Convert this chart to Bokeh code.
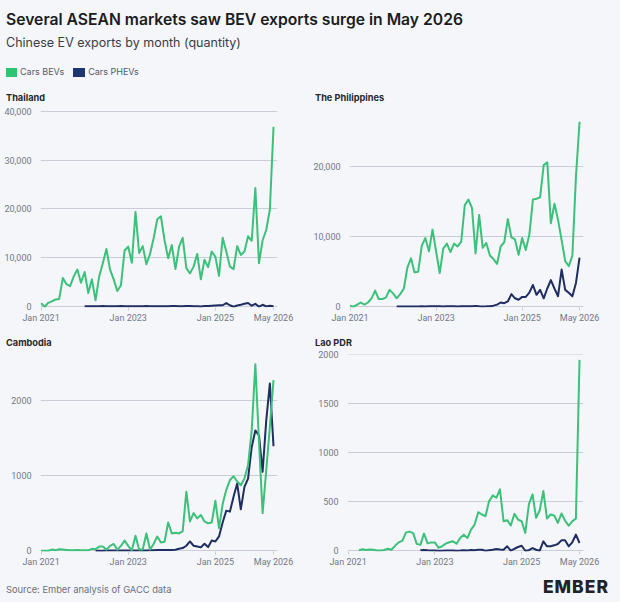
from bokeh.plotting import figure
from bokeh.layouts import column, row
from bokeh.models import Div, FixedTicker, NumeralTickFormatter, Range1d, ColumnDataSource
from bokeh.embed import file_html
from bokeh.resources import INLINE

nan = float("nan")

# ---------------- data ----------------
months = [f"{y}-{m:02d}" for y in range(2021, 2027) for m in range(1, 13)][:65]  # Jan 2021 .. May 2026
x_ticks = [0, 24, 48, 64]
x_tick_labels = ["Jan 2021", "Jan 2023", "Jan 2025", "May 2026"]

thailand_bev = [700, 0, 800, 1100, 1500, 1600, 5900, 4600, 4200, 6200,
                7600, 4900, 7100, 2800, 5600, 1300, 6200, 8900, 11800, 7600,
                5600, 3200, 4400, 11500, 12300, 9000, 19400, 11000, 12400, 8700,
                10800, 14000, 17900, 18500, 13600, 9900, 12600, 7700, 12300, 14100,
                7900, 6800, 8200, 10800, 5600, 9600, 8100, 11300, 10200, 6300,
                14100, 11300, 8200, 7700, 12400, 10600, 11300, 14400, 13500, 24300,
                8900, 13600, 15700, 19900, 36800]
thailand_phev = [nan] * 12 + [100, 120, 90, 110, 100, 130, 120, 110, 100, 120,
                              130, 110, 100, 90, 120, 110, 100, 130, 120, 110,
                              100, 90, 120, 110, 130, 150, 120, 100, 140,
                              150, 100, 80, 50, 150,
                              150, 200, 250, 300, 300, 750, 300, 0, 250, 400,
                              600, 750, 200, 600, 0, 400, 70, 200, 100]

philippines_bev = [150, 0, 300, 600, 300, 600, 1200, 2300, 1100, 1100,
                   1300, 2400, 1900, 1200, 1800, 2600, 5600, 6900, 4900, 5000,
                   8700, 9800, 7900, 11000, 7900, 4800, 8300, 9000, 7800, 9000,
                   8600, 9300, 14500, 15300, 14100, 7600, 13100, 8400, 9100, 7300,
                   6800, 6100, 8600, 9200, 12500, 9900, 9600, 7400, 9800, 8100,
                   10300, 15300, 15400, 15600, 20200, 20600, 11900, 14700, 12400, 9500,
                   6500, 5800, 7300, 18600, 26400]
philippines_phev = [nan] * 13 + [20, 20, 30, 30, 20, 30, 40, 50, 40, 60,
                                 80, 60, 50, 40, 50, 60, 50, 40, 60, 80,
                                 60, 50, 120, 60, 40, 50, 80,
                                 150, 300, 600, 500, 750, 1800, 1200, 1000, 1400, 1400,
                                 2000, 3100, 1700, 2400, 1200, 2600, 3800, 2600, 1500, 5300,
                                 2400, 2000, 1500, 3400, 7000]

cambodia_bev = [0, 0, 0, 15, 5, 20, 15, 10, 5, 5,
                10, 5, 5, 5, 25, 20, 55, 55, 15, 65,
                90, 15, 65, 135, 65, 5, 200, 15, 15, 230,
                15, 90, 190, 110, 120, 375, 230, 240, 230, 260,
                785, 390, 500, 430, 475, 390, 365, 375, 665, 300,
                620, 810, 940, 990, 920, 870, 960, 1140, 1600, 2480,
                1450, 500, 1070, 1650, 2270]
cambodia_phev = [nan] * 15 + [0, 0, 0, 2, 2, 2, 3, 3, 3, 2,
                              3, 3, 4, 3, 4, 5, 5, 8, 10, 8,
                              8, 10, 12,
                              26, 35, 66, 123, 66, 57, 44, 92, 48, 136,
                              123, 190, 375, 533, 520, 718, 894, 550, 850, 960,
                              1380, 1600, 1533, 1050, 1730, 2225, 1390]

lao_bev = [nan] * 3 + [5, 15, 8, 12, 10, 3, 3, 8, 20, 10,
                       50, 85, 100, 185, 195, 180, 70, 60, 175, 75,
                       85, 85, 30,
                       45, 72, 86, 96, 72, 130, 164, 130, 216, 267,
                       394, 370, 353, 507, 565, 541, 627, 301, 312, 257,
                       377, 318, 301, 182, 473, 575, 336, 414, 610, 329,
                       370, 360, 284, 380, 308, 255, 300, 330, 1950]
lao_phev = [nan] * 20 + [5, 8, 5, 3, 2, 0, 0, 2, 3, 2,
                         0, 2, 5, 3, 8, 5, 10,
                         10, 0, 5, 10, 17, 12, 10, 45, 0, 20,
                         38, 51, 0, 5, 27, 10, 0, 96, 45, 45,
                         55, 68, 106, 106, 45, 86, 164, 79]

series_names = ["Cars BEVs", "Cars PHEVs"]

# ---------------- style ----------------
BG = "#f4f6fa"
GREEN = "#3cc07a"
NAVY = "#1f2d60"
GRID = "#c9cdd8"
LABEL = "#737886"
FONT = "Inter"
AXFONT = "Roboto"


def panel(bev, phev, y_ticks, y_end, y_fmt, w, h, bl, br, bt, bb):
    x = list(range(len(months)))
    src = ColumnDataSource(dict(x=x, bev=bev, phev=phev, month=months))
    p = figure(width=w, height=h, x_range=Range1d(-0.15, 65.1),
               y_range=Range1d(-0.004 * y_end, y_end),
               output_backend="svg", toolbar_location=None,
               background_fill_color=BG, border_fill_color=BG,
               outline_line_color=None, margin=0,
               min_border_left=bl, min_border_right=br,
               min_border_top=bt, min_border_bottom=bb)
    p.line("x", "phev", source=src, color=NAVY, line_width=2, line_join="round")
    p.line("x", "bev", source=src, color=GREEN, line_width=2, line_join="round")

    p.xaxis.ticker = FixedTicker(ticks=x_ticks)
    p.xaxis.major_label_overrides = {t: l for t, l in zip(x_ticks, x_tick_labels)}
    p.yaxis.ticker = FixedTicker(ticks=y_ticks)
    p.yaxis.formatter = NumeralTickFormatter(format=y_fmt)
    for ax in (p.xaxis, p.yaxis):
        ax.axis_line_color = None
        ax.minor_tick_line_color = None
        ax.major_label_text_font = AXFONT
        ax.major_label_text_font_size = "9px"
        ax.major_label_text_color = LABEL
    p.yaxis.major_tick_line_color = None
    p.xaxis.major_tick_line_color = GRID
    p.xaxis.major_tick_in = 0
    p.xaxis.major_tick_out = 3
    p.xaxis.major_label_standoff = 2
    p.yaxis.major_label_standoff = 3
    p.xgrid.grid_line_color = None
    p.ygrid.ticker = FixedTicker(ticks=y_ticks)
    p.ygrid.grid_line_color = GRID
    p.ygrid.grid_line_width = 1
    return p


def title_div(text, w, h, left, top):
    html = (f'<div style="position:relative;width:{w}px;height:{h}px;">'
            f'<div style="position:absolute;left:{left}px;top:{top}px;font-family:{FONT};'
            f'font-size:9.2px;font-weight:700;color:#26282e;line-height:11px;white-space:nowrap;">'
            f'{text}</div></div>')
    return Div(text=html, width=w, height=h, margin=0, styles={"background-color": BG})


header_html = f"""
<div style="position:relative;width:620px;height:88px;font-family:{FONT};">
 <div style="position:absolute;left:6px;top:10px;font-size:15.7px;font-weight:600;color:#1b1c20;white-space:nowrap;line-height:19px;">Several ASEAN markets saw BEV exports surge in May 2026</div>
 <div style="position:absolute;left:6px;top:35px;font-size:12.5px;color:#3a3d45;white-space:nowrap;line-height:15px;">Chinese EV exports by month (quantity)</div>
 <div style="position:absolute;left:6px;top:67px;height:10px;font-size:9px;color:#555a66;white-space:nowrap;line-height:10px;display:flex;align-items:center;">
   <span style="display:inline-block;width:11px;height:9px;background:#2fc474;margin-right:3px;"></span>{series_names[0]}
   <span style="display:inline-block;width:12px;height:9px;background:#1f3572;margin:0 3px 0 9px;"></span>{series_names[1]}
 </div>
</div>"""
header = Div(text=header_html, width=620, height=88, margin=0, styles={"background-color": BG})

footer_html = f"""
<div style="position:relative;width:620px;height:30px;font-family:{FONT};">
 <div style="position:absolute;left:6px;top:12px;font-size:9.3px;color:#6b7080;line-height:11px;white-space:nowrap;">Source: Ember analysis of GACC data</div>
 <div style="position:absolute;right:11px;top:7px;font-size:17.5px;font-weight:800;color:#1f2326;letter-spacing:1px;line-height:15px;white-space:nowrap;">EMBER</div>
</div>"""
footer = Div(text=footer_html, width=620, height=30, margin=0, styles={"background-color": BG})

p1 = panel(thailand_bev, thailand_phev, [0, 10000, 20000, 30000, 40000], 40150, "0,0",
           310, 223, 40, 33, 6, 20)
p2 = panel(philippines_bev, philippines_phev, [0, 10000, 20000], 28000, "0,0",
           310, 223, 37, 37, 6, 20)
p3 = panel(cambodia_bev, cambodia_phev, [0, 1000, 2000], 2610, "0",
           310, 226, 40, 33, 8, 21)
p4 = panel(lao_bev, lao_phev, [0, 500, 1000, 1500, 2000], 2005, "0",
           310, 226, 37, 37, 8, 21)

r1 = row(column(title_div("Thailand", 310, 16, 6, 4), p1, spacing=0, margin=0),
         column(title_div("The Philippines", 310, 16, 5, 4), p2, spacing=0, margin=0),
         spacing=0, margin=0)
r2 = row(column(title_div("Cambodia", 310, 19, 6, 10), p3, spacing=0, margin=0),
         column(title_div("Lao PDR", 310, 19, 5, 10), p4, spacing=0, margin=0),
         spacing=0, margin=0)

layout = column(header, r1, r2, footer, spacing=0, margin=0,
                styles={"background-color": BG})

open("out.html", "w").write(file_html(layout, INLINE))
